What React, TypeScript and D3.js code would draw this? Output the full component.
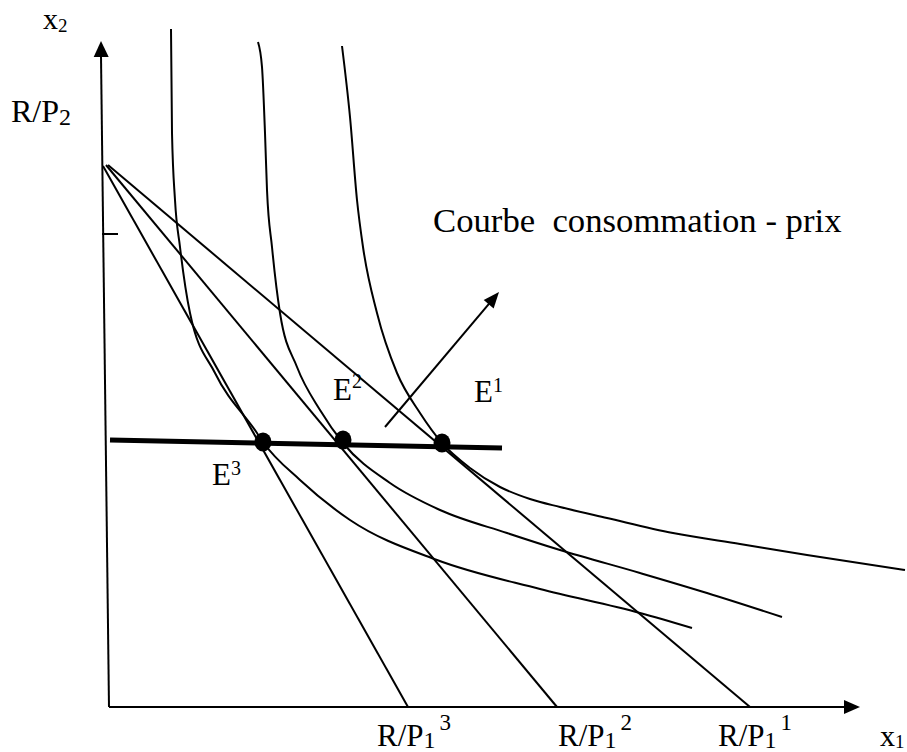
import React from "react";
import * as d3 from "d3";

// Schematic units: x1 (good 1) and x2 (good 2), origin at bottom-left corner
const xDomain = [0, 752];
const yDomain = [0, 666];

// Indifference curves (x1, x2)
const indifferenceLow: number[][] = [
  [63, 678], [64, 574], [67, 507], [72, 460], [82, 394], [107, 334], [149, 274], [155, 265],
  [192, 227], [242, 187], [329, 147], [432, 118], [532, 94], [584, 79],
];
const indifferenceMid: number[][] = [
  [150, 665], [154, 640], [157, 574], [159, 517], [164, 460], [172, 394], [189, 340],
  [212, 297], [235, 264], [282, 224], [332, 197], [399, 174], [452, 157],
  [532, 134], [599, 114], [674, 90],
];
const indifferenceHigh: number[][] = [
  [234, 661], [242, 590], [249, 507], [255, 460], [269, 394], [289, 334], [312, 294],
  [334, 264], [362, 239], [392, 220], [422, 208], [452, 200], [499, 189], [565, 174],
  [632, 163], [699, 152], [797, 137],
];

// Budget lines: start on x2 axis (R/P2), end on x1 axis (R/P1^i)
const budgetStarts: number[][] = [[-5, 541], [-2, 542], [0, 542]];
const budgetEnds: number[] = [300, 449, 642];
const budgetLabels = ["3", "2", "1"];

// Equilibria
const equilibriumNames = ["E", "E", "E"];
const equilibriumSups = ["3", "2", "1"];
const equilibriumX: number[] = [155, 235, 334];
const equilibriumY: number[] = [265, 267, 264];

// Price-consumption curve and its arrow
const pccLine: number[][] = [[2, 267], [394, 259]];
const pccArrow: number[][] = [[277, 280], [391, 415]];

// Axes
const yAxisLine: number[][] = [[1, 0], [-7, 651]];
const yAxisTip: number[] = [-7, 666];
const xAxisLine: number[][] = [[1, 0], [737, 0]];
const xAxisTip: number[] = [752, 0];
const tickX2: number = 473;

const FONT = "'Liberation Serif', 'Times New Roman', Times, serif";

function head(tip: number[], from: number[], len: number, half: number) {
  const dx = tip[0] - from[0];
  const dy = tip[1] - from[1];
  const d = Math.hypot(dx, dy);
  const ux = dx / d, uy = dy / d;
  const bx = tip[0] - ux * len, by = tip[1] - uy * len;
  const px = -uy, py = ux;
  return `M${tip[0]},${tip[1]}L${bx + px * half},${by + py * half}L${bx - px * half},${by - py * half}Z`;
}

export default function App() {
  const x = d3.scaleLinear().domain(xDomain).range([108, 860]);
  const y = d3.scaleLinear().domain(yDomain).range([707, 41]);
  const curve = d3
    .line<number[]>()
    .x((d) => x(d[0]))
    .y((d) => y(d[1]))
    .curve(d3.curveMonotoneX);
  const straight = d3
    .line<number[]>()
    .x((d) => x(d[0]))
    .y((d) => y(d[1]));

  const P = (d: number[]) => [x(d[0]), y(d[1])];

  const arrowFrom = P(pccArrow[0]);
  const arrowTip = P(pccArrow[1]);
  const arrowLen = 16;
  const ad = Math.hypot(arrowTip[0] - arrowFrom[0], arrowTip[1] - arrowFrom[1]);
  const arrowBase = [
    arrowTip[0] - ((arrowTip[0] - arrowFrom[0]) / ad) * (arrowLen - 2),
    arrowTip[1] - ((arrowTip[1] - arrowFrom[1]) / ad) * (arrowLen - 2),
  ];

  const eqLabelPos = [
    { x: 212, y: 485, dy: -10 },
    { x: 333, y: 400, dy: -12 },
    { x: 474, y: 402, dy: -10 },
  ];
  const budgetLabelX = [377, 558, 718];

  return (
    <svg
      width={907}
      height={752}
      style={{ position: "absolute", left: 0, top: 0, background: "#fff" }}
      fontFamily={FONT}
    >
      <rect width={907} height={752} fill="#fff" />
      {/* axes */}
      <path d={straight(yAxisLine) || ""} stroke="#000" strokeWidth={2} fill="none" />
      <path d={head(P(yAxisTip), P(yAxisLine[0]), 16, 7.5)} fill="#000" />
      <path d={straight(xAxisLine) || ""} stroke="#000" strokeWidth={2} fill="none" />
      <path d={head(P(xAxisTip), P(xAxisLine[0]), 16, 7)} fill="#000" />
      <path
        d={straight([[-6, tickX2], [10, tickX2]]) || ""}
        stroke="#000"
        strokeWidth={2}
        fill="none"
      />

      {/* budget lines */}
      {budgetStarts.map((s, i) => (
        <path
          key={"b" + i}
          d={straight([s, [budgetEnds[i], 0]]) || ""}
          stroke="#000"
          strokeWidth={2}
          fill="none"
        />
      ))}

      {/* indifference curves */}
      {[indifferenceLow, indifferenceMid, indifferenceHigh].map((c, i) => (
        <path key={"ic" + i} d={curve(c) || ""} stroke="#000" strokeWidth={2} fill="none" />
      ))}

      {/* price-consumption curve */}
      <path d={straight(pccLine) || ""} stroke="#000" strokeWidth={5} fill="none" />
      <line
        x1={arrowFrom[0]}
        y1={arrowFrom[1]}
        x2={arrowBase[0]}
        y2={arrowBase[1]}
        stroke="#000"
        strokeWidth={2}
      />
      <path d={head(arrowTip, arrowFrom, arrowLen, 6.5)} fill="#000" />

      {/* equilibrium points */}
      {equilibriumX.map((ex, i) => (
        <ellipse key={"e" + i} cx={x(ex)} cy={y(equilibriumY[i])} rx={8.5} ry={9.5} fill="#000" />
      ))}

      {/* labels */}
      <text x={43} y={29} fontSize={30}>
        x<tspan fontSize={19} dy={3}>2</tspan>
      </text>
      <text x={11} y={122} fontSize={32}>
        R/P<tspan fontSize={24} dy={3}>2</tspan>
      </text>
      {budgetLabels.map((s, i) => (
        <text key={"bl" + i} x={budgetLabelX[i]} y={746} fontSize={31}>
          R/P<tspan fontSize={24} dy={2}>1</tspan>
          <tspan fontSize={23} dx={4} dy={-18}>{s}</tspan>
        </text>
      ))}
      <text x={880} y={746} fontSize={30}>
        x<tspan fontSize={19} dy={2}>1</tspan>
      </text>
      {equilibriumNames.map((n, i) => (
        <text key={"el" + i} x={eqLabelPos[i].x} y={eqLabelPos[i].y} fontSize={31}>
          {n}
          <tspan fontSize={20} dy={eqLabelPos[i].dy}>{equilibriumSups[i]}</tspan>
        </text>
      ))}
      <text x={433} y={232} fontSize={34.7} xmlSpace="preserve" style={{ whiteSpace: "pre" }}>
        {"Courbe  consommation - prix"}
      </text>
    </svg>
  );
}
